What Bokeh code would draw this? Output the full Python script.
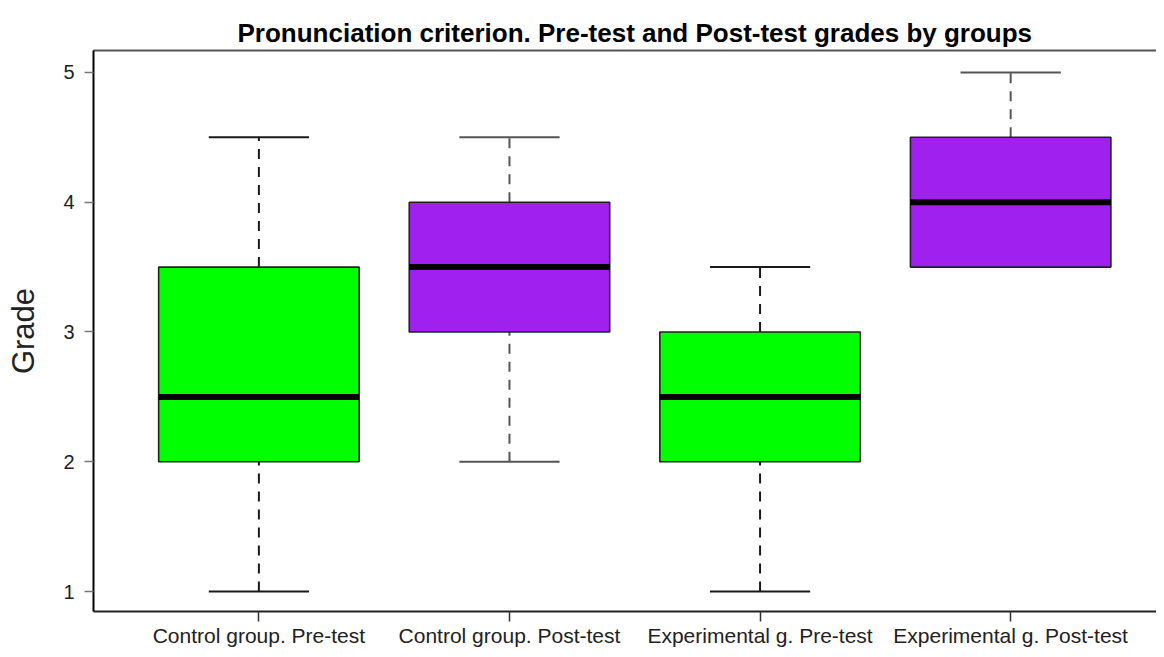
from bokeh.plotting import figure
from bokeh.models import Range1d, FixedTicker, LinearAxis, ColumnDataSource
from bokeh.embed import file_html
from bokeh.resources import INLINE

groups = ["Control group. Pre-test", "Control group. Post-test",
          "Experimental g. Pre-test", "Experimental g. Post-test"]
lower_whisker = [1.0, 2.0, 1.0, 3.5]
q1 = [2.0, 3.0, 2.0, 3.5]
median = [2.5, 3.5, 2.5, 4.0]
q3 = [3.5, 4.0, 3.0, 4.5]
upper_whisker = [4.5, 4.5, 3.5, 5.0]
y_ticks = [1, 2, 3, 4, 5]
title_text = "Pronunciation criterion. Pre-test and Post-test grades by groups"
y_label = "Grade"

box_colors = ["#00FF00", "#A020F0", "#00FF00", "#A020F0"]
whisker_colors = ["#1a1a1a", "#555555", "#1a1a1a", "#555555"]

xs = list(range(1, len(groups) + 1))
src = ColumnDataSource(dict(
    x=xs, lw=lower_whisker, q1=q1, med=median, q3=q3, uw=upper_whisker,
    x0=[x - 0.4 for x in xs], x1=[x + 0.4 for x in xs],
    c0=[x - 0.2 for x in xs], c1=[x + 0.2 for x in xs],
    fill=box_colors, wc=whisker_colors,
))

FONT = "Liberation Sans"

p = figure(width=1156, height=649, output_backend="svg", toolbar_location=None,
           x_range=Range1d(0.34, 4.582), y_range=Range1d(0.8464, 5.169),
           min_border_left=93, min_border_top=50, min_border_bottom=30,
           min_border_right=0, x_axis_type=None, y_axis_type=None,
           title=title_text)
p.outline_line_color = None
p.xgrid.visible = False
p.ygrid.visible = False
p.background_fill_color = "white"
p.border_fill_color = "white"

p.title.align = "left"
p.title.text_font = FONT
p.title.text_font_size = "26px"
p.title.text_font_style = "bold"
p.title.text_color = "black"
p.title.offset = 144
p.title.standoff = 6

# whiskers
p.segment(x0="x", y0="q3", x1="x", y1="uw", source=src, line_color="wc",
          line_width=2, line_dash="10 8")
p.segment(x0="x", y0="lw", x1="x", y1="q1", source=src, line_color="wc",
          line_width=2, line_dash="10 8")
# caps
p.segment(x0="c0", y0="uw", x1="c1", y1="uw", source=src, line_color="wc", line_width=2)
p.segment(x0="c0", y0="lw", x1="c1", y1="lw", source=src, line_color="wc", line_width=2)
# boxes
p.quad(left="x0", right="x1", bottom="q1", top="q3", source=src,
       fill_color="fill", line_color="#222222", line_width=1.6)
# medians
p.segment(x0="x0", y0="med", x1="x1", y1="med", source=src,
          line_color="black", line_width=6)

# left axis
yax = LinearAxis(ticker=FixedTicker(ticks=y_ticks), axis_label=y_label)
yax.axis_line_color = "black"
yax.axis_line_width = 2
yax.major_tick_in = 0
yax.major_tick_out = 9
yax.major_tick_line_color = "#777777"
yax.major_tick_line_width = 1.5
yax.minor_tick_line_color = None
yax.major_label_text_font = FONT
yax.major_label_text_font_size = "20px"
yax.major_label_text_color = "#222222"
yax.major_label_standoff = 10
yax.axis_label_text_font = FONT
yax.axis_label_text_font_size = "31px"
yax.axis_label_text_font_style = "normal"
yax.axis_label_text_color = "#222222"
yax.axis_label_standoff = 19
p.add_layout(yax, "left")

# bottom axis
xax = LinearAxis(ticker=FixedTicker(ticks=xs))
xax.major_label_overrides = {i + 1: g for i, g in enumerate(groups)}
xax.axis_line_color = "#222222"
xax.axis_line_width = 2
xax.major_tick_in = 0
xax.major_tick_out = 10
xax.major_tick_line_color = "#333333"
xax.major_tick_line_width = 1.5
xax.minor_tick_line_color = None
xax.major_label_text_font = FONT
xax.major_label_text_font_size = "21px"
xax.major_label_text_color = "#222222"
xax.major_label_standoff = 2
p.add_layout(xax, "below")

# top frame line
tax = LinearAxis(ticker=FixedTicker(ticks=[]))
tax.axis_line_color = "#555555"
tax.axis_line_width = 2
tax.major_tick_line_color = None
tax.minor_tick_line_color = None
tax.major_label_text_font_size = "0px"
p.add_layout(tax, "above")

open("out.html", "w").write(file_html(p, INLINE))
